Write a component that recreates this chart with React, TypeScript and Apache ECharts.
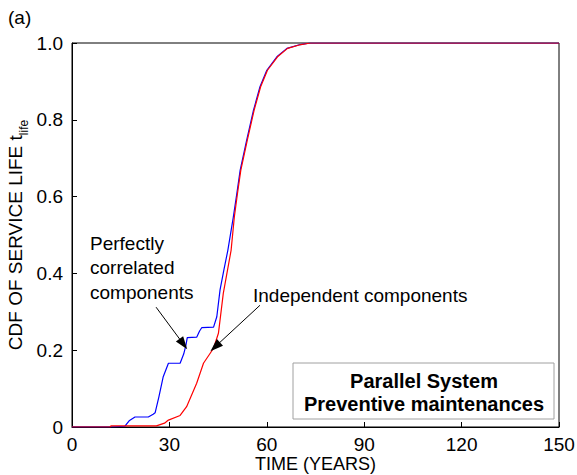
import React, { useEffect, useRef } from "react";
import * as echarts from "echarts";

// Perfectly correlated components (blue)
const blueT = [0, 12, 16.3, 17.6, 19.4, 23.5, 25.0, 25.6, 26.8, 28.1, 29.7, 33.3, 34.4, 35.1, 35.5, 38.4, 39.3, 40.0, 43.6, 44.6, 45.6, 46.8, 48.0, 49.7, 50.8, 51.8, 53.8, 55.9, 57.9, 60.0, 63.1, 66.2, 70.3, 73.3, 150];
const blueV = [0, 0, 0.002, 0.016, 0.026, 0.026, 0.033, 0.037, 0.08, 0.131, 0.166, 0.166, 0.19, 0.213, 0.233, 0.234, 0.25, 0.259, 0.26, 0.287, 0.357, 0.41, 0.46, 0.547, 0.61, 0.669, 0.747, 0.825, 0.886, 0.929, 0.964, 0.986, 0.996, 1.0, 1.0];

// Independent components (red)
const redT = [0, 11.7, 12, 26.0, 28.5, 29.7, 33.3, 35.3, 38.4, 40.5, 43.6, 45.1, 46.6, 49.0, 50.0, 51.0, 52.0, 54.0, 56.1, 58.1, 60.2, 63.3, 66.4, 70.5, 73.5, 150];
const redV = [0, 0, 0.003, 0.003, 0.01, 0.018, 0.03, 0.053, 0.114, 0.166, 0.205, 0.244, 0.348, 0.46, 0.547, 0.61, 0.669, 0.747, 0.825, 0.886, 0.929, 0.964, 0.986, 0.996, 1.0, 1.0];

const xTicks = [0, 30, 60, 90, 120, 150];
const yTicks = [0, 0.2, 0.4, 0.6, 0.8, 1.0];

// annotation arrows in data coordinates: [fromX, fromY, toX, toY]
const arrowCorrelated = [25.9, 0.312, 34.3, 0.216];
const arrowIndependent = [57.9, 0.317, 44.1, 0.209];

const FONT = "Liberation Sans, Arial, Helvetica, sans-serif";

export default function App() {
  const ref = useRef<HTMLDivElement>(null);
  useEffect(() => {
    document.body.style.margin = "0";
    const chart = echarts.init(ref.current!, null, { renderer: "svg" });
    const toPairs = (t: number[], v: number[]) => t.map((x, i) => [x, v[i]]);
    const arrow = (a: number[]) => [
      { coord: [a[0], a[1]], symbol: "none" },
      { coord: [a[2], a[3]], symbol: "triangle", symbolSize: [9, 13] },
    ];
    chart.setOption({
      animation: false,
      textStyle: { fontFamily: FONT },
      grid: {
        left: 72,
        right: 18,
        top: 43,
        bottom: 48,
        outerBoundsMode: "none",
        containLabel: false,
        show: true,
        borderColor: "#000",
        borderWidth: 1,
        backgroundColor: "transparent",
      },
      xAxis: {
        type: "value",
        min: 0,
        max: 150,
        interval: 30,
        name: "TIME (YEARS)",
        nameLocation: "middle",
        nameGap: 28,
        nameMoveOverlap: false,
        nameTextStyle: { fontSize: 18, color: "#000", fontFamily: FONT, verticalAlign: "top" },
        axisLine: { show: true, lineStyle: { color: "#000", width: 1 } },
        axisTick: { show: true, inside: true, length: 5, lineStyle: { color: "#000" } },
        axisLabel: { fontSize: 19, color: "#000", margin: 8, fontFamily: FONT },
        splitLine: { show: false },
      },
      yAxis: {
        type: "value",
        min: 0,
        max: 1,
        interval: 0.2,
        name: "{a|CDF OF SERVICE LIFE t}{b|life}",
        nameLocation: "middle",
        nameGap: 42,
        nameMoveOverlap: false,
        nameTextStyle: {
          color: "#000",
          fontFamily: FONT,
          rich: {
            a: { fontSize: 19, color: "#000", fontFamily: FONT, lineHeight: 24, verticalAlign: "top" },
            b: { fontSize: 12, color: "#000", fontFamily: FONT, lineHeight: 14, verticalAlign: "bottom" },
          },
        },
        axisLine: { show: true, lineStyle: { color: "#000", width: 1 } },
        axisTick: { show: true, inside: true, length: 5, lineStyle: { color: "#000" } },
        axisLabel: {
          fontSize: 19,
          color: "#000",
          margin: 9,
          fontFamily: FONT,
          formatter: (v: number) => (v === 0 ? "0" : v.toFixed(1)),
        },
        splitLine: { show: false },
      },
      series: [
        {
          type: "line",
          name: "Perfectly correlated components",
          data: toPairs(blueT, blueV),
          showSymbol: false,
          lineStyle: { color: "#0000ff", width: 1.2 },
          markLine: {
            silent: true,
            symbol: ["none", "triangle"],
            label: { show: false },
            lineStyle: { color: "#000", width: 1, type: "solid" },
            itemStyle: { color: "#000" },
            data: [arrow(arrowCorrelated), arrow(arrowIndependent)],
          },
        },
        {
          type: "line",
          name: "Independent components",
          data: toPairs(redT, redV),
          showSymbol: false,
          lineStyle: { color: "#ff0000", width: 1.2 },
        },
      ],
      graphic: [
        {
          type: "text",
          left: 8,
          top: 8,
          style: { text: "(a)", fontSize: 19, fill: "#000", fontFamily: FONT },
        },
        {
          type: "text",
          x: 90,
          y: 231,
          style: {
            text: "Perfectly\ncorrelated\ncomponents",
            fontSize: 19,
            lineHeight: 24.5,
            fill: "#000",
            fontFamily: FONT,
            verticalAlign: "top",
          },
        },
        {
          type: "text",
          x: 253,
          y: 295,
          style: {
            text: "Independent components",
            fontSize: 19,
            fill: "#000",
            fontFamily: FONT,
            verticalAlign: "middle",
          },
        },
        {
          type: "rect",
          shape: { x: 293, y: 363, width: 261, height: 56 },
          style: { fill: "#fff", stroke: "#a0a0a0", lineWidth: 1 },
          z: 10,
        },
        {
          type: "text",
          x: 424,
          y: 381,
          z: 11,
          style: {
            text: "Parallel System",
            fontSize: 20,
            fontWeight: "bold",
            fill: "#000",
            fontFamily: FONT,
            align: "center",
            verticalAlign: "middle",
          },
        },
        {
          type: "text",
          x: 424,
          y: 404,
          z: 11,
          style: {
            text: "Preventive maintenances",
            fontSize: 20,
            fontWeight: "bold",
            fill: "#000",
            fontFamily: FONT,
            align: "center",
            verticalAlign: "middle",
          },
        },
      ],
    });
    return () => chart.dispose();
  }, []);
  return <div ref={ref} style={{ width: 577, height: 475 }} />;
}
